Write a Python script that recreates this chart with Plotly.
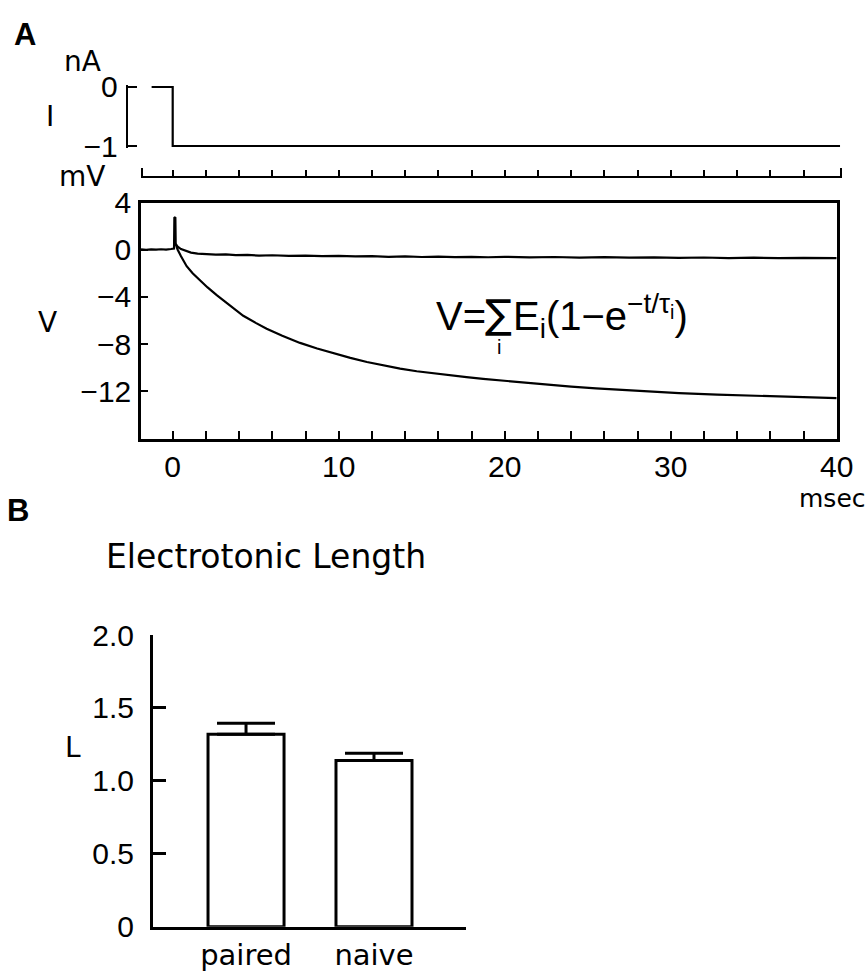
import plotly.graph_objects as go

W, H = 868, 972

# ---- Panel A: current step (nA) ----
i_time = [-1.27, 0.0, 0.0, 40.2]
i_current = [0.0, 0.0, -1.0, -1.0]
i_scale_ticks = [0, -1]
i_scale_text = ["0", "\u22121"]

# ---- Panel A: membrane potential (mV) vs time (msec) ----
v_time_upper = [-1.91, -1.6, -1.3, -1.0, -0.7, -0.4, -0.1, 0.08, 0.1, 0.16, 0.18, 0.3,
                0.5, 0.8, 1.1, 1.5, 2.0, 2.6, 3.2, 3.8, 4.5, 5.2, 6.0, 7.0, 8.0, 9.0,
                10.0, 11.0, 12.0, 13.0, 14.0, 15.0, 16.0, 17.0, 18.0, 19.0, 20.0, 21.5,
                23.0, 24.5, 26.0, 27.5, 29.0, 30.5, 32.0, 33.5, 35.0, 36.5, 38.0, 39.5, 40.0]
v_upper = [0.02, -0.02, 0.03, 0.0, 0.04, 0.01, 0.06, 0.1, 2.7, 2.75, 0.5, 0.25,
           0.05, -0.12, -0.25, -0.33, -0.38, -0.42, -0.4, -0.46, -0.44, -0.5, -0.47, -0.53,
           -0.5, -0.55, -0.52, -0.57, -0.54, -0.6, -0.56, -0.62, -0.58, -0.63, -0.6, -0.64,
           -0.6, -0.65, -0.62, -0.67, -0.63, -0.68, -0.65, -0.7, -0.66, -0.71, -0.67, -0.72,
           -0.69, -0.74, -0.72]

v_time_lower = [0.18, 0.3, 0.5, 0.84, 1.2, 1.64, 2.1, 2.65, 3.2, 3.65, 4.25, 5.0, 5.66,
                6.6, 7.67, 8.7, 9.67, 10.7, 11.7, 12.7, 13.7, 14.7, 15.7, 16.7, 17.7, 18.7,
                19.7, 21.0, 22.5, 24.0, 25.5, 27.0, 28.8, 30.5, 32.8, 34.8, 36.8, 38.5, 40.0]
v_lower = [0.5, 0.0, -0.55, -1.4, -2.0, -2.6, -3.2, -3.85, -4.45, -4.95, -5.6, -6.2, -6.7,
           -7.3, -7.9, -8.37, -8.78, -9.17, -9.52, -9.83, -10.08, -10.3, -10.48, -10.64,
           -10.8, -10.95, -11.08, -11.25, -11.44, -11.6, -11.75, -11.89, -12.04, -12.16,
           -12.29, -12.38, -12.46, -12.52, -12.57]

v_ticks = [4, 0, -4, -8, -12]
t_ticks = [0, 10, 20, 30, 40]
marker_ticks = list(range(0, 40, 2))

# ---- Panel B: electrotonic length ----
groups = ["paired", "naive"]
length_mean = [1.32, 1.14]
length_sem = [0.075, 0.05]
l_ticks = [0, 0.5, 1.0, 1.5, 2.0]
l_text = ["0", "0.5", "1.0", "1.5", "2.0"]


def fx(x):
    return x / W


def fy(y):
    return 1 - y / H


WORD = "DejaVu Sans"
NUM = "Liberation Sans"
INK = "black"

fig = go.Figure()

fig.add_trace(go.Scatter(x=i_time, y=i_current, mode="lines", xaxis="x2", yaxis="y2",
                         line=dict(color=INK, width=2.2), hoverinfo="skip"))
fig.add_trace(go.Scatter(x=v_time_upper, y=v_upper, mode="lines", xaxis="x", yaxis="y",
                         line=dict(color=INK, width=2.2), hoverinfo="skip"))
fig.add_trace(go.Scatter(x=v_time_lower, y=v_lower, mode="lines", xaxis="x", yaxis="y",
                         line=dict(color=INK, width=2.2), hoverinfo="skip"))
# empty traces so the time-marker strip and the current scale get their own subplots
fig.add_trace(go.Scatter(x=[], y=[], mode="lines", xaxis="x3", yaxis="y3", hoverinfo="skip"))
fig.add_trace(go.Scatter(x=[], y=[], mode="lines", xaxis="x5", yaxis="y5", hoverinfo="skip"))
fig.add_trace(go.Bar(x=groups, y=length_mean, xaxis="x4", yaxis="y4", width=0.594,
                     marker=dict(color="white", line=dict(color=INK, width=3)),
                     error_y=dict(type="data", symmetric=False, array=length_sem,
                                  arrayminus=[0, 0], width=29, thickness=3, color=INK),
                     hoverinfo="skip"))

axis_common = dict(showgrid=False, zeroline=False, linecolor=INK, tickcolor=INK,
                   automargin=False)

t_px = 16.6          # pixels per msec
t0_px = 172.7        # pixel column of t = 0

fig.update_layout(
    template="none",
    width=W, height=H,
    margin=dict(l=0, r=0, t=0, b=0, pad=0),
    paper_bgcolor="white", plot_bgcolor="rgba(0,0,0,0)",
    showlegend=False,
    # V trace box
    xaxis=dict(axis_common, domain=[fx(141), fx(836.7)], range=[-1.91, 40], anchor="y",
               showline=True, linewidth=2.5, mirror=True, ticks="inside", ticklen=8,
               tickwidth=2, tickvals=t_ticks, ticklabelstandoff=0,
               tickfont=dict(family=NUM, size=30, color=INK),
               minor=dict(tickvals=marker_ticks, ticks="inside", ticklen=8, tickwidth=2,
                          tickcolor=INK)),
    yaxis=dict(axis_common, domain=[fy(438.5), fy(202.5)], range=[-16, 4], anchor="x",
               showline=True, linewidth=2.5, mirror=True, ticks="inside", ticklen=7,
               tickwidth=2, tickvals=v_ticks, ticklabelstandoff=1,
               tickfont=dict(family=NUM, size=30, color=INK)),
    # current trace
    xaxis2=dict(axis_common, domain=[fx(120), fx(850)],
                range=[(120 - t0_px) / t_px, (850 - t0_px) / t_px],
                anchor="y2", visible=False),
    yaxis2=dict(axis_common, domain=[fy(152), fy(80)],
                range=[-1 - 6 / 59, 7 / 59], anchor="x2", visible=False),
    # time marker strip
    xaxis3=dict(axis_common, domain=[fx(142.7), fx(840)],
                range=[(142.7 - t0_px) / t_px, (840 - t0_px) / t_px], anchor="y3",
                showline=True, linewidth=2, ticks="inside", ticklen=6, tickwidth=2,
                tickvals=marker_ticks, showticklabels=False),
    yaxis3=dict(axis_common, domain=[fy(175.5), fy(168)], range=[0, 1], anchor="x3",
                showline=True, linewidth=2, mirror=True, ticks="", showticklabels=False),
    # current scale bracket
    xaxis5=dict(axis_common, domain=[fx(127.7), fx(137)], range=[0, 1], anchor="y5",
                visible=False),
    yaxis5=dict(axis_common, domain=[fy(147.8), fy(85.2)], range=[-1.03, 0.03],
                anchor="x5", showline=True, linewidth=2, ticks="inside", ticklen=9,
                tickwidth=2, tickvals=i_scale_ticks, ticktext=i_scale_text,
                ticklabelstandoff=2, tickfont=dict(family=NUM, size=30, color=INK)),
    # bar chart
    xaxis4=dict(axis_common, domain=[fx(153), fx(466)], range=[-0.727, 1.719],
                anchor="y4", type="category", showline=True, linewidth=3, ticks="",
                ticklabelstandoff=0, tickfont=dict(family=WORD, size=29, color=INK)),
    yaxis4=dict(axis_common, domain=[fy(926.7), fy(635)], range=[0, 2], anchor="x4",
                showline=True, linewidth=3, ticks="inside", ticklen=13, tickwidth=3,
                tickvals=l_ticks, ticktext=l_text, ticklabelstandoff=10,
                tickfont=dict(family=NUM, size=30, color=INK)),
)


def label(text, x, y, size=28, family=WORD, bold=False, xanchor="center"):
    fig.add_annotation(text=f"<b>{text}</b>" if bold else text, x=fx(x), y=fy(y),
                       xref="paper", yref="paper", showarrow=False, xanchor=xanchor,
                       yanchor="middle", font=dict(family=family, size=size, color=INK))


label("A", 25, 34, size=31, family=NUM, bold=True)
label("B", 18, 511, size=31, family=NUM, bold=True)
label("nA", 82, 62)
label("I", 50, 117)
label("mV", 82, 176)
label("V", 47, 322)
label("msec", 868, 498, size=25, xanchor="right")
label("L", 73, 747, size=28)
label("Electrotonic Length", 266, 556, size=33)

# membrane equation, built from pieces so the summation index sits under the sigma
label("V=", 434, 316, size=40, family=NUM, xanchor="left")
label("\u2211", 498, 314, size=40, family=WORD)
label("i", 499, 347, size=20, family=NUM)
label("E<sub>i</sub>(1\u2212e<sup>\u2212t/\u03c4<sub>i</sub></sup>)", 511, 316, size=40,
      family=NUM, xanchor="left")

fig.write_html("out.html")
